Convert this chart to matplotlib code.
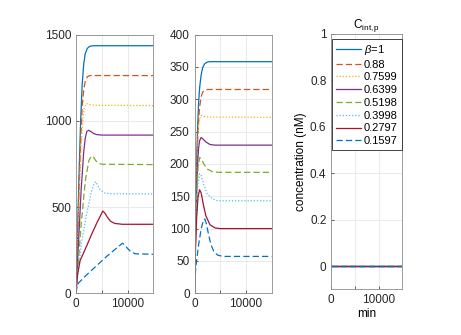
import numpy as np
import matplotlib
matplotlib.use('Agg')
import matplotlib.pyplot as plt

plt.rcParams['font.family'] = ['Liberation Sans', 'DejaVu Sans']
plt.rcParams['font.size'] = 8.5
plt.rcParams['mathtext.fontset'] = 'custom'
plt.rcParams['mathtext.rm'] = 'Liberation Sans'
plt.rcParams['mathtext.it'] = 'Liberation Sans:italic'

# legend labels (beta values)
labels = [r'$\beta$=1', '0.88', '0.7599', '0.6399', '0.5198', '0.3998', '0.2797', '0.1597']
colors = ['#0072BD', '#D95319', '#EDB120', '#7E2F8E', '#77AC30', '#4DBEEE', '#A2142F', '#0072BD']
styles = ['-', (0, (5, 2.5)), (0, (1, 1.5)), '-', (0, (5, 2.5)), (0, (1, 1.5)), '-', (0, (5, 2.5))]

# panel 1: (time [min], value)
p1_t = [
    [0, 300, 600, 900, 1200, 1500, 1800, 2200, 2700, 3500, 15000],
    [0, 300, 600, 900, 1200, 1500, 1800, 2200, 2700, 15000],
    [0, 500, 1000, 1300, 1600, 2000, 2500, 3500, 15000],
    [0, 500, 1000, 1500, 1800, 2100, 2500, 3000, 3500, 4000, 5000, 15000],
    [0, 1000, 1800, 2500, 3000, 3400, 3800, 4300, 5000, 15000],
    [0, 1000, 2000, 3000, 3500, 3800, 4200, 4700, 5500, 6500, 15000],
    [0, 300, 800, 2000, 3000, 4000, 5200, 5600, 6100, 6700, 7500, 9000, 15000],
    [0, 200, 500, 2000, 4000, 6000, 8000, 9000, 9500, 10000, 10700, 11500, 15000],
]
p1_y = [
    [0, 350, 700, 1000, 1210, 1330, 1390, 1420, 1432, 1435, 1435],
    [0, 300, 620, 880, 1080, 1180, 1230, 1255, 1262, 1262],
    [0, 450, 850, 1000, 1075, 1100, 1095, 1090, 1088],
    [0, 300, 600, 820, 900, 938, 945, 935, 925, 920, 917, 917],
    [0, 400, 650, 770, 795, 790, 770, 755, 748, 746],
    [0, 280, 450, 590, 635, 647, 625, 600, 582, 577, 576],
    [0, 110, 190, 270, 340, 405, 477, 465, 440, 418, 405, 400, 400],
    [0, 40, 60, 105, 160, 215, 265, 290, 280, 260, 240, 229, 226],
]

# panel 2
p2_t = [
    [0, 200, 400, 600, 800, 1000, 1300, 1600, 2000, 2500, 3000, 15000],
    [0, 200, 400, 600, 800, 1000, 1300, 1600, 2000, 2500, 15000],
    [0, 200, 400, 600, 800, 1000, 1300, 1700, 2200, 15000],
    [0, 200, 400, 600, 800, 1000, 1300, 1700, 2200, 3000, 4000, 15000],
    [0, 200, 400, 700, 1000, 1300, 1800, 2500, 3500, 4500, 15000],
    [0, 200, 400, 700, 1000, 1300, 1800, 2500, 3500, 4500, 15000],
    [0, 200, 400, 700, 1000, 1300, 1700, 2200, 3000, 4000, 5000, 15000],
    [0, 200, 400, 800, 1300, 1700, 2000, 2300, 2700, 3200, 3800, 4500, 5500, 15000],
]
p2_y = [
    [0, 110, 200, 255, 295, 318, 338, 349, 355, 357.5, 358, 358],
    [0, 100, 185, 235, 268, 288, 304, 311, 314, 315, 315],
    [0, 95, 170, 225, 258, 270, 275, 274, 272.5, 272],
    [0, 90, 155, 200, 225, 236, 241, 238, 234, 230, 229, 229],
    [0, 85, 145, 195, 210, 208, 200, 192, 188, 187, 187],
    [0, 75, 130, 170, 185, 182, 168, 153, 146, 143, 143],
    [0, 70, 115, 150, 160, 155, 138, 120, 106, 101, 100, 100],
    [0, 35, 50, 75, 100, 112, 115, 108, 92, 75, 64, 59, 57, 57],
]

# panel 3: C_int,p stays at zero
p3_t = [0, 15000]
p3_y = [0, 0]

W, H = 461, 335
fig = plt.figure(figsize=(W / 100, H / 100), dpi=100)

def box(l, r, t, b):
    return [l / W, 1 - b / H, (r - l) / W, (b - t) / H]

ax1 = fig.add_axes(box(76, 153.3, 34.5, 293.3))
ax2 = fig.add_axes(box(194.5, 271.7, 34.5, 293.3))
ax3 = fig.add_axes(box(331.3, 402.3, 34, 289.3))

for i in range(8):
    ax1.plot(p1_t[i], p1_y[i], color=colors[i], linestyle=styles[i], lw=0.9)
    ax2.plot(p2_t[i], p2_y[i], color=colors[i], linestyle=styles[i], lw=0.9)
    ax3.plot(p3_t, p3_y, color=colors[i], linestyle=styles[i], lw=0.9, label=labels[i])

ax1.set_ylim(0, 1500)
ax1.set_yticks([0, 500, 1000, 1500])
ax2.set_ylim(0, 400)
ax2.set_yticks(range(0, 401, 50))
ax3.set_ylim(-0.1, 1)
ax3.set_yticks([0, 0.2, 0.4, 0.6, 0.8, 1])
ax3.set_yticklabels(['0', '0.2', '0.4', '0.6', '0.8', '1'])

for ax in (ax1, ax2, ax3):
    ax.set_xlim(0, 15000)
    ax.set_xticks([0, 5000, 10000])
    ax.set_xticklabels(['0', '', '10000'])
    ax.grid(True, color='#e6e6e6', lw=0.6)
    ax.set_axisbelow(True)
    ax.tick_params(direction='in', length=2.5, width=0.5, colors='#262626', labelsize=8.5)
    for s in ax.spines.values():
        s.set_color('#8c8c8c')
        s.set_linewidth(0.6)

ax3.set_xlabel('min', labelpad=1)
ax3.set_ylabel('concentration (nM)', labelpad=2)
ax3.set_title(r'$\mathregular{C_{int,p}}$', fontsize=8.5, pad=3)

leg = ax3.legend(loc='upper left', bbox_to_anchor=(0.0, 0.985), fontsize=8,
                 handlelength=2.2, handletextpad=0.3, labelspacing=0.25,
                 borderpad=0.35, borderaxespad=0.1, fancybox=False, framealpha=1)
leg.get_frame().set_edgecolor('#262626')
leg.get_frame().set_linewidth(0.6)

fig.savefig('out.png', dpi=100)
